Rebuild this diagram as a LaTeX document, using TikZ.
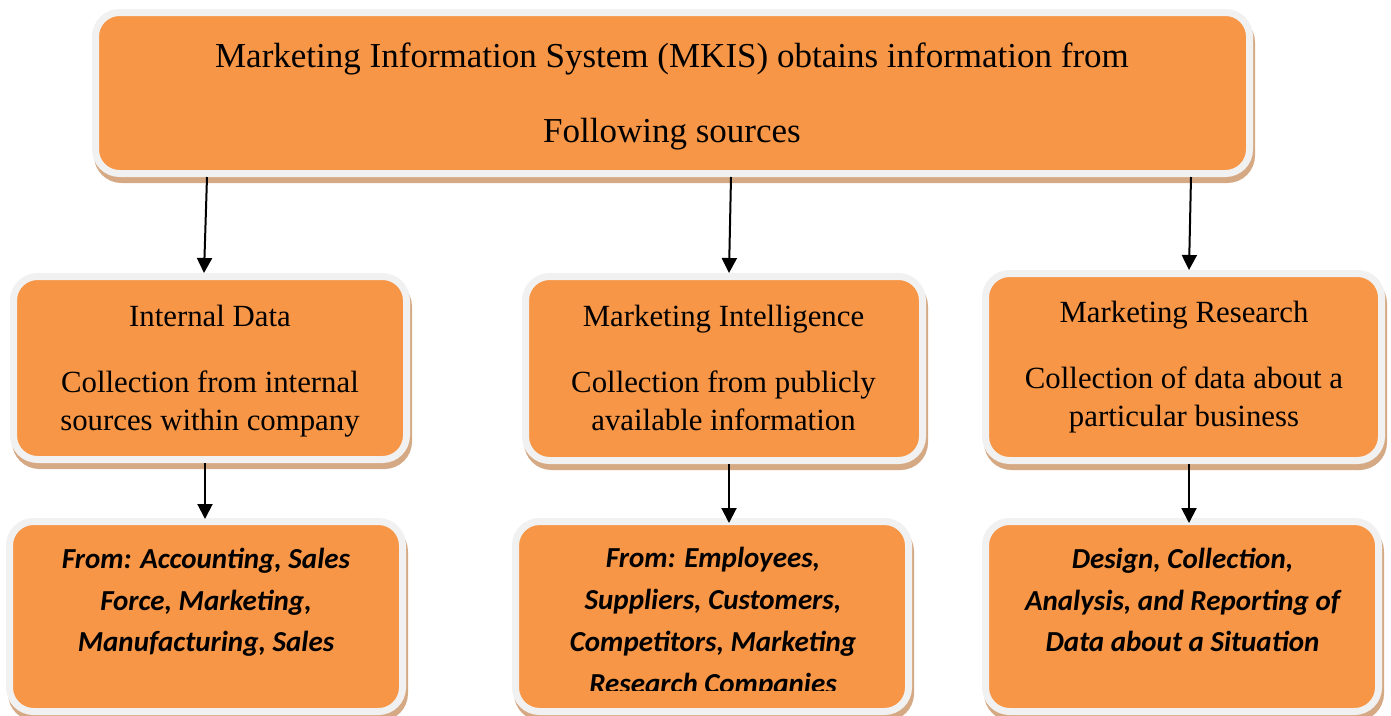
\documentclass[tikz,border=0pt]{standalone}
\usepackage{fontspec}
\setmainfont{Liberation Serif}
\newfontfamily\calib{Carlito}
\usetikzlibrary{arrows.meta}
\definecolor{boxorange}{HTML}{F79646}
\definecolor{rimgray}{HTML}{F1F1F1}
\definecolor{shadetan}{HTML}{D6A985}
\begin{document}
\begin{tikzpicture}[x=1pt,y=-1pt,
  box/.style={rectangle, rounded corners=24pt, fill=boxorange, draw=rimgray,
    line width=7pt, inner sep=0pt, outer sep=3.5pt,
    preaction={draw=shadetan, fill=shadetan, line width=7pt,
      transform canvas={xshift=2pt,yshift=-6pt}}},
  arr/.style={-{Triangle[width=15pt,length=15pt]}, line width=2pt},
  toptxt/.style={font=\fontsize{35}{75}\selectfont, align=center, anchor=base, inner sep=0pt},
  midtxt/.style={font=\fontsize{30.8}{38}\selectfont, align=center, anchor=base, inner sep=0pt},
  bottxt/.style={font=\calib\bfseries\itshape\fontsize{29}{41.7}\selectfont, align=center, anchor=base, inner sep=0pt}]
\useasboundingbox (0,0) rectangle (1391,715);

% boxes
\node[box, minimum width=1154pt, minimum height=161pt] (top) at (672.5,93) {};
\node[box, minimum width=393pt, minimum height=183pt] (ml) at (210,368) {};
\node[box, minimum width=397pt, minimum height=184pt] (mm) at (724,368.5) {};
\node[box, minimum width=396pt, minimum height=187pt] (mr) at (1183.5,367) {};
\node[box, minimum width=393pt, minimum height=190pt] (bl) at (206,616.5) {};
\node[box, minimum width=393pt, minimum height=190pt] (bm) at (712,616.5) {};
\node[box, minimum width=393pt, minimum height=190pt] (br) at (1182,616.5) {};

% texts (anchor=base is the baseline of the last line)
\node[toptxt] (ttop) at (672,142) {Marketing Information System (MKIS) obtains information from\\Following sources};
\node[midtxt] (tml) at (210,430) {Internal Data\\[28pt]Collection from internal\\sources within company};
\node[midtxt] (tmm) at (723.5,430) {Marketing Intelligence\\[28pt]Collection from publicly\\available information};
\node[midtxt] (tmr) at (1184,426) {Marketing Research\\[28pt]Collection of data about a\\particular business};
\node[bottxt] (tbl) at (206,651.7) {From: Accounting, Sales\\Force, Marketing,\\Manufacturing, Sales};
\begin{scope}
  \clip (512,517) rectangle (912,690);
  \node[bottxt] (tbm) at (713,693) {From: Employees,\\Suppliers, Customers,\\Competitors, Marketing\\Research Companies};
\end{scope}
\node[bottxt] (tbr) at (1182.5,651.7) {Design, Collection,\\Analysis, and Reporting of\\Data about a Situation};

% connectors
\draw[arr] (top.south -| 207,0) -- (ml.north -| 204,0);
\draw[arr] (top.south -| 731,0) -- (mm.north -| 729,0);
\draw[arr] (top.south -| 1191,0) -- (mr.north -| 1189,0);
\draw[arr] (ml.south -| 205,0) -- ([yshift=-1pt]bl.north -| 205,0);
\draw[arr] (mm.south -| 729,0) -- ([yshift=-5pt]bm.north -| 729,0);
\draw[arr] (mr.south -| 1189,0) -- ([yshift=-5pt]br.north -| 1189,0);
\end{tikzpicture}
\end{document}
